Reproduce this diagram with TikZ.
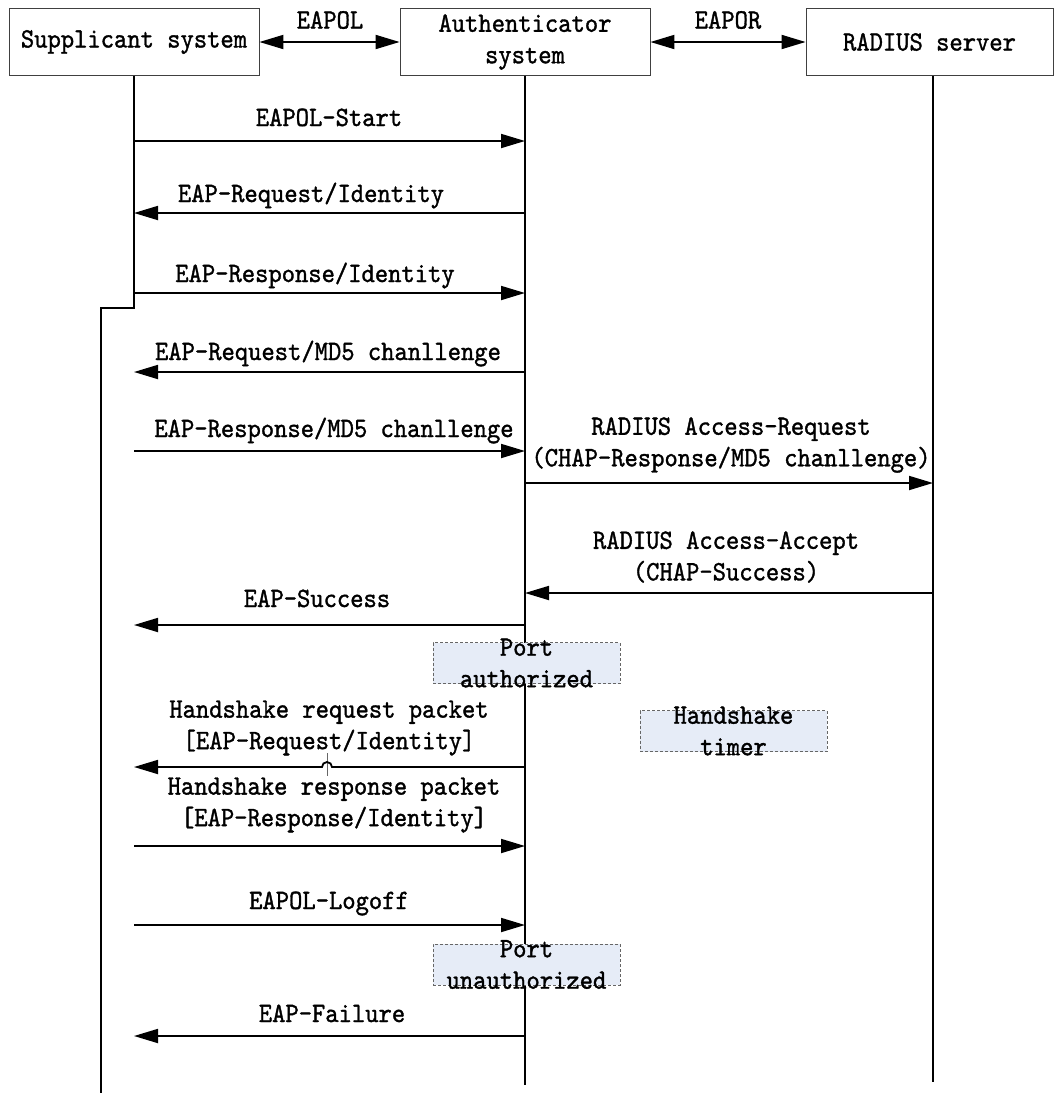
\documentclass[tikz,border=0pt]{standalone}
\usepackage{fontspec}
\usetikzlibrary{arrows.meta}
% condensed, slightly heavier monospaced face for all labels
\newfontfamily\monof{lmmono10-regular.otf}[FakeStretch=0.905, FakeBold=1.2]
\definecolor{statefill}{RGB}{230,236,247}
\begin{document}
\begin{tikzpicture}[x=1pt,y=-1pt,
  txt/.style={font=\fontsize{28}{31.5}\selectfont\monof, inner sep=0pt, align=center},
  actor/.style={txt, draw=black!75, line width=0.8pt, minimum height=67pt},
  life/.style={line width=1.8pt},
  msg/.style={line width=1.8pt, -{Triangle[length=24pt,width=14pt]}},
  dbl/.style={line width=1.8pt, {Triangle[length=24pt,width=14pt]}-{Triangle[length=24pt,width=14pt]}},
  statebox/.style={draw=black!60, dashed, dash pattern=on 3pt off 2pt, line width=0.7pt,
                   fill=statefill, minimum width=187pt, minimum height=41pt, inner sep=0pt},
]
\useasboundingbox (0,0) rectangle (1056,1093);

% participants
\node[actor, minimum width=250pt] (sup)  at (134,42)   {Supplicant system};
\node[actor, minimum width=250pt] (auth) at (525,42)   {Authenticator\\system};
\node[actor, minimum width=247pt] (rad)  at (929.5,42) {RADIUS server};

% protocol links between participants
\draw[dbl] (sup.east) -- (auth.west);
\draw[dbl] (auth.east) -- (rad.west);
\node[txt] (eapol) at (330,20) {EAPOL};
\node[txt] (eapor) at (728,20) {EAPOR};

% lifelines
\coordinate (rtop)  at (933,76);
\coordinate (sstep) at (101,308);
\coordinate (send)  at (101,1093);
\coordinate (aend)  at (525,1085);
\coordinate (rend)  at (933,1082);
\draw[life] (sup.south) -- (sup.south |- sstep) -- (sstep) -- (send);
\draw[life] (auth.south) -- (aend);
\draw[life] (rtop) -- (rend);

% message rows
\coordinate (m1)  at (0,141);
\coordinate (m2)  at (0,213);
\coordinate (m3)  at (0,293);
\coordinate (m4)  at (0,372);
\coordinate (m5)  at (0,451);
\coordinate (m6)  at (0,483);
\coordinate (m7)  at (0,593);
\coordinate (m8)  at (0,625);
\coordinate (m9)  at (0,767);
\coordinate (m10) at (0,846);
\coordinate (m11) at (0,925);
\coordinate (m12) at (0,1036);
\coordinate (hop) at (332,767);

\draw[msg] (sup.south |- m1) -- (auth.south |- m1);
\draw[msg] (auth.south |- m2) -- (sup.south |- m2);
\draw[msg] (sup.south |- m3) -- (auth.south |- m3);
\draw[msg] (auth.south |- m4) -- (sup.south |- m4);
\draw[msg] (sup.south |- m5) -- (auth.south |- m5);
\draw[msg] (auth.south |- m6) -- (rtop |- m6);
\draw[msg] (rtop |- m7) -- (auth.south |- m7);
\draw[msg] (auth.south |- m8) -- (sup.south |- m8);
\draw[black!60, line width=0.8pt] (327,753) -- (327,776);
\draw[msg] (auth.south |- m9) -- (hop) arc[start angle=0, end angle=180, radius=5pt] -- (sup.south |- m9);
\draw[msg] (sup.south |- m10) -- (auth.south |- m10);
\draw[msg] (sup.south |- m11) -- (auth.south |- m11);
\draw[msg] (auth.south |- m12) -- (sup.south |- m12);

% message labels
\node[txt, anchor=base] (l1)  at (329,126)  {EAPOL-Start};
\node[txt, anchor=base] (l2)  at (311,202)  {EAP-Request/Identity};
\node[txt, anchor=base] (l3)  at (315,282)  {EAP-Response/Identity};
\node[txt, anchor=base] (l4)  at (328,360)  {EAP-Request/MD5 chanllenge};
\node[txt, anchor=base] (l5)  at (334,437)  {EAP-Response/MD5 chanllenge};
\node[txt] (l6)  at (731,445) {RADIUS Access-Request\\(CHAP-Response/MD5 chanllenge)};
\node[txt] (l7)  at (726,557) {RADIUS Access-Accept\\(CHAP-Success)};
\node[txt, anchor=base] (l8)  at (317,607)  {EAP-Success};
\node[txt] (l9)  at (329,728) {Handshake request packet\\{[EAP-Request/Identity]}};
\node[txt] (l10) at (334,805) {Handshake response packet\\{[EAP-Response/Identity]}};
\node[txt, anchor=base] (l11) at (329,909)  {EAPOL-Logoff};
\node[txt, anchor=base] (l12) at (332,1022) {EAP-Failure};

% port / timer states
\node[statebox] (pa) at (526.5,663) {};
\node[txt] (pat) at (pa) {Port\\authorized};
\node[statebox] (ht) at (733.5,731) {};
\node[txt] (htt) at (ht) {Handshake\\timer};
\node[statebox] (pu) at (526.5,964.5) {};
\node[txt] (put) at (pu) {Port\\unauthorized};
\end{tikzpicture}
\end{document}
